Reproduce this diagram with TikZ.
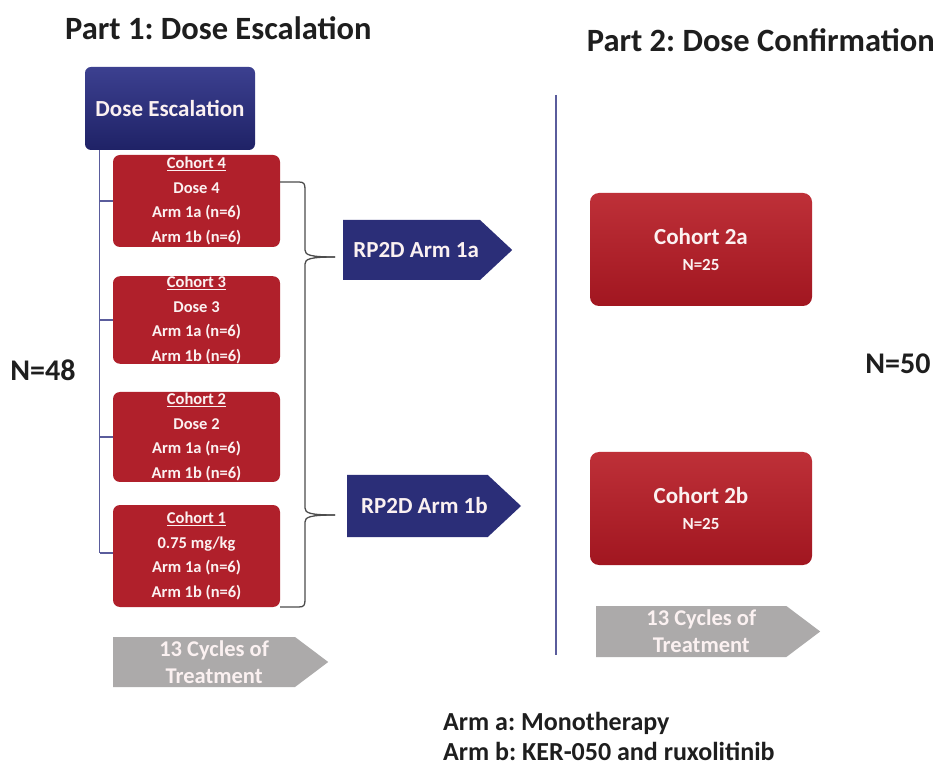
\documentclass[tikz,border=0pt]{standalone}
\usepackage{fontspec}
\setmainfont{Carlito}
\frenchspacing
\usetikzlibrary{shapes.symbols}
\definecolor{navyT}{HTML}{3C4090}
\definecolor{navyB}{HTML}{1F2266}
\definecolor{navyF}{HTML}{2B2E78}
\definecolor{redT}{HTML}{BE3038}
\definecolor{redB}{HTML}{A11620}
\definecolor{redF}{HTML}{B0202B}
\definecolor{greyF}{HTML}{ACAAAA}
\definecolor{txtW}{HTML}{FBF1F1}
\definecolor{spine}{HTML}{5A5C9C}
\definecolor{ink}{HTML}{1E1E1E}
\tikzset{
  smallbox/.style={rectangle, rounded corners=7pt, fill=redF, text=txtW, align=center,
    minimum width=167pt, inner sep=0pt, font=\fontsize{16.5}{24.5}\selectfont\bfseries},
  bigbox/.style={rectangle, rounded corners=9pt, top color=redT, bottom color=redB, text=txtW,
    align=center, minimum width=222pt, minimum height=113pt, inner sep=0pt},
  headbox/.style={rectangle, rounded corners=6pt, top color=navyT, bottom color=navyB, text=txtW,
    minimum width=170pt, minimum height=83pt, inner sep=0pt, font=\fontsize{23}{26}\selectfont\bfseries},
  rparrow/.style={signal, signal to=east, signal pointer angle=86, fill=navyF, text=txtW,
    inner sep=0pt, anchor=west, font=\fontsize{23}{26}\selectfont\bfseries},
  cyclearrow/.style={signal, signal to=east, signal pointer angle=74, fill=greyF, text=txtW,
    inner sep=0pt, align=center, anchor=west, font=\fontsize{22.5}{27}\selectfont\bfseries},
  spineline/.style={draw=spine, line width=1.2pt},
  braceline/.style={draw=black!70, line width=1.3pt},
  title/.style={text=ink, font=\fontsize{32.5}{36}\selectfont\bfseries, inner sep=0pt},
  ntext/.style={text=ink, font=\fontsize{30}{34}\selectfont\bfseries, inner sep=0pt},
  legend/.style={text=ink, font=\fontsize{26}{30}\selectfont\bfseries, inner sep=0pt, anchor=base west}
}
\begin{document}
\begin{tikzpicture}[x=1pt,y=-1pt]
\useasboundingbox (0,0) rectangle (938,767);
\fill[white] (0,0) rectangle (938,767);
% titles
\node[title, anchor=west] (t1) at (65,28) {Part 1: Dose Escalation};
\node[title, anchor=east] (t2) at (935,40) {Part 2: Dose Confirmation};
% head box
\node[headbox] (de) at (170,108.5) {Dose Escalation};
% cohorts
\node[smallbox, minimum height=92pt] (c4) at (196.5,201) {\underline{Cohort 4}\\Dose 4\\Arm 1a (n=6)\\Arm 1b (n=6)};
\node[smallbox, minimum height=86pt] (c3) at (196.5,320) {\underline{Cohort 3}\\Dose 3\\Arm 1a (n=6)\\Arm 1b (n=6)};
\node[smallbox, minimum height=90pt] (c2) at (196.5,437) {\underline{Cohort 2}\\Dose 2\\Arm 1a (n=6)\\Arm 1b (n=6)};
\node[smallbox, minimum height=102pt] (c1) at (196.5,556) {\underline{Cohort 1}\\0.75 mg/kg\\Arm 1a (n=6)\\Arm 1b (n=6)};
% spine
\coordinate (sp) at ([xshift=15pt]de.south west);
\coordinate (spend) at (sp |- 0,553);
\draw[spineline] (sp) -- (spend);
\draw[spineline] (sp |- c4.west) -- (c4.west);
\draw[spineline] (sp |- c3.west) -- (c3.west);
\draw[spineline] (sp |- c2.west) -- (c2.west);
\draw[spineline] (spend) -- (spend -| c1.west);
% RP2D arrows
\node[rparrow, minimum width=169pt, minimum height=60pt] (r1) at (343,250) {\hspace*{9pt}RP2D Arm 1a};
\node[rparrow, minimum width=173pt, minimum height=62pt] (r2) at (347,506) {\hspace*{14pt}RP2D Arm 1b};
% brace
\coordinate (b1) at (335,257);
\coordinate (b2) at (335,515);
\draw[braceline] (280,182) -- (299,182) .. controls (304,182) and (305,184) .. (305,189)
  -- (305,250) .. controls (305,255) and (310,257) .. (b1);
\draw[braceline] (b1) .. controls (310,257) and (305,259) .. (305,264)
  -- (305,508) .. controls (305,513) and (310,515) .. (b2);
\draw[braceline] (b2) .. controls (310,515) and (305,517) .. (305,522)
  -- (305,600) .. controls (305,605) and (304,607) .. (299,607) -- (280,607);
% separator
\coordinate (s1) at (556,95);
\coordinate (s2) at (556,655);
\draw[spineline] (s1) -- (s2);
% part 2 cohorts
\node[bigbox] (c2a) at (701,249.5) {{\fontsize{23}{26}\selectfont\bfseries Cohort 2a}\\[14pt]{\fontsize{17}{18}\selectfont\bfseries N=25}};
\node[bigbox] (c2b) at (701,508.5) {{\fontsize{23}{26}\selectfont\bfseries Cohort 2b}\\[14pt]{\fontsize{17}{18}\selectfont\bfseries N=25}};
% cycle arrows
\node[cyclearrow, minimum width=215pt, minimum height=50pt] (g1) at (113,662) {\hspace*{20pt}13 Cycles of\\\hspace*{20pt}Treatment};
\node[cyclearrow, minimum width=224pt, minimum height=51pt] (g2) at (596,631.5) {\hspace*{20pt}13 Cycles of\\\hspace*{20pt}Treatment};
% N labels
\node[ntext] (n48) at (43,370) {N=48};
\node[ntext] (n50) at (898,364) {N=50};
% legend
\node[legend] (lg1) at (443,730) {Arm a: Monotherapy};
\node[legend] (lg2) at (443,760) {Arm b: KER-050 and ruxolitinib};
\end{tikzpicture}
\end{document}
